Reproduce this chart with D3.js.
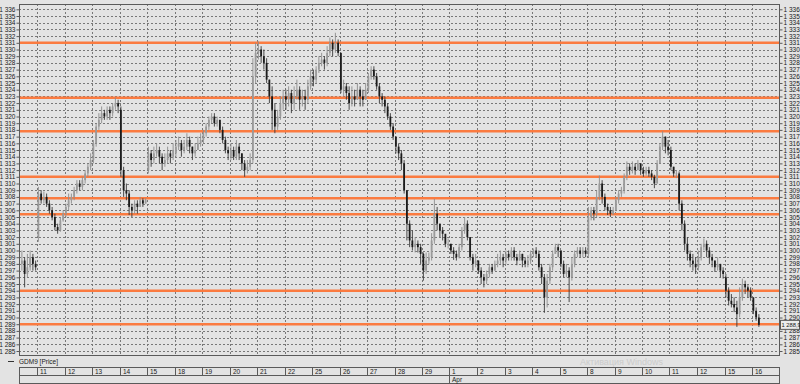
<!DOCTYPE html>
<html>
<head>
<meta charset="utf-8">
<script src="https://cdnjs.cloudflare.com/ajax/libs/d3/7.8.5/d3.min.js"></script>
<style>
body{margin:0;background:#e3e3e3;overflow:hidden}
svg{display:block}
text{font-family:"Liberation Sans",Arial,sans-serif;fill:#1a1a1a}
</style>
</head>
<body>
<script>
//---------------------------------------------------------------------------DATA
// one entry per trading day, first one is the cut-off day before Mar 11
var dayLabels = ["", "11", "12", "13", "14", "15", "18", "19", "20", "21", "22", "25", "26", "27", "28", "29",
	"1", "2", "3", "4", "5", "8", "9", "10", "11", "12", "15", "16"];
var monthStarts = [16];
var monthNames = ["Apr"];

var dayOpens = [1298, 1302, 1305.5, 1313.5, 1321, 1312, 1314.5, 1316.5, 1314, 1329.5, 1323, 1326, 1329.5, 1324,
	1317, 1299.5, 1301, 1298.5, 1298.5, 1299.5, 1300, 1299.5, 1306, 1312, 1315, 1297.5, 1296, 1293];

var closes = [
	[1298.5, 1296.5, 1297.5, 1299, 1298, 1297.5],
	[1308.5, 1307.5, 1308, 1307, 1306, 1305, 1303.5, 1303, 1304.5, 1305.5],
	[1306.5, 1307.5, 1308, 1309, 1310, 1309.5, 1310.5, 1311.5, 1312.5, 1313.5],
	[1316, 1318.5, 1319.5, 1320.5, 1320, 1321, 1320.5, 1321.5, 1322, 1321.5],
	[1312, 1309, 1308.5, 1306.5, 1306, 1307, 1306.5, 1307.5, 1307, 1307.5],
	[1314.5, 1313.5, 1314.5, 1315, 1314, 1313, 1313.5, 1314.5, 1314, 1315],
	[1315.5, 1316, 1315, 1315.5, 1316.5, 1315.5, 1314.5, 1315, 1316, 1316.5],
	[1317.5, 1318.5, 1319.5, 1320, 1319, 1319.5, 1318, 1316.5, 1315, 1314.5],
	[1315, 1314, 1315.5, 1314.5, 1313, 1312, 1312.5, 1313.5, 1326, 1329.5],
	[1330, 1329, 1328, 1325.5, 1323, 1321, 1318.5, 1320, 1322, 1323],
	[1322.5, 1323.5, 1322, 1323, 1324, 1322.5, 1323, 1322.5, 1324.5, 1326],
	[1325.5, 1327, 1328, 1328.5, 1328, 1329.5, 1331, 1330, 1331, 1329.5],
	[1324, 1324.5, 1323.5, 1322, 1323, 1322.5, 1324, 1323, 1322.5, 1324],
	[1326, 1327, 1326, 1324.5, 1323, 1322.5, 1321.5, 1320, 1318.5, 1317],
	[1315.5, 1314.5, 1313, 1309, 1304, 1301.5, 1300.5, 1301, 1300.5, 1299.5],
	[1297, 1298.5, 1299, 1301.5, 1305.5, 1304, 1303, 1302.5, 1301, 1301],
	[1300, 1299.5, 1299, 1300.5, 1303, 1304, 1302, 1299, 1298, 1298.5],
	[1297, 1296, 1295.5, 1296.5, 1297.5, 1297, 1298, 1298.5, 1299, 1298.5],
	[1299.5, 1299, 1300, 1299, 1298.5, 1299.5, 1298.5, 1298, 1298.5, 1299.5],
	[1300, 1299.5, 1297.5, 1296, 1293, 1295.5, 1297.5, 1299.5, 1300.5, 1300],
	[1298, 1296.5, 1297, 1296, 1298, 1299.5, 1300, 1299.5, 1300, 1299.5],
	[1305, 1306, 1305.5, 1308, 1310, 1308, 1306.5, 1306, 1305.5, 1306],
	[1307.5, 1308.5, 1309, 1311, 1312.5, 1312, 1312.5, 1312, 1313, 1312],
	[1311.5, 1312, 1311.5, 1311, 1310, 1313, 1315.5, 1317, 1315.5, 1315],
	[1312.5, 1311.5, 1311.5, 1307, 1304, 1301, 1299.5, 1298.5, 1298, 1297.5],
	[1299, 1300.5, 1301, 1300, 1299, 1298.5, 1297.5, 1298, 1297, 1296.5],
	[1294, 1292.5, 1292, 1291.5, 1290.5, 1293, 1295, 1294.5, 1294, 1293],
	[1291, 1290, 1288.9]
];

var highs = [
	[1300, 1299, 1299.5, 1300, 1299.5, 1298.5],
	[1309.5, 1309, 1308.8, 1308.5, 1307.5, 1306.5, 1305.5, 1304, 1305, 1306],
	[1307, 1308.5, 1308.5, 1309.5, 1310.5, 1310.5, 1311, 1312, 1313, 1314.5],
	[1316.5, 1319, 1320.5, 1321.5, 1321, 1321.5, 1321.5, 1322, 1322.8, 1322.5],
	[1321.5, 1312.5, 1310, 1309, 1307, 1307.5, 1307.5, 1308, 1307.8, 1307.8],
	[1315.5, 1315, 1315.5, 1316, 1315.5, 1314.5, 1314.5, 1315.5, 1315, 1316],
	[1316.5, 1317, 1316.5, 1316.5, 1317.5, 1317, 1315.5, 1316, 1317, 1317.5],
	[1318, 1319, 1320, 1320.5, 1320.5, 1320, 1319.5, 1318.5, 1317, 1315.5],
	[1316, 1315.5, 1316.5, 1316, 1314.5, 1313.5, 1313.5, 1314.5, 1328.7, 1331],
	[1331.2, 1330.5, 1330, 1328.7, 1325.5, 1324.5, 1322, 1321, 1323, 1324],
	[1324, 1324.5, 1324, 1324.5, 1325.5, 1324.5, 1324, 1324, 1325.5, 1327],
	[1327, 1327.5, 1329, 1329.5, 1329, 1330.5, 1331.8, 1331.5, 1332.5, 1331.5],
	[1329.5, 1325.5, 1325, 1324.5, 1324.5, 1324, 1325, 1324.5, 1324, 1325],
	[1326.5, 1327.5, 1327.5, 1326.5, 1325, 1323.5, 1323, 1322, 1320.5, 1319],
	[1317, 1316, 1315, 1313.5, 1309, 1304.5, 1303, 1302, 1301.5, 1301],
	[1299.7, 1299.7, 1299.7, 1302.6, 1307.7, 1306.5, 1304, 1303.5, 1302, 1301.8],
	[1301, 1300.5, 1300, 1301, 1303.5, 1305, 1304.5, 1302, 1299.5, 1299.5],
	[1298.5, 1297.5, 1296.5, 1297, 1298, 1298, 1298.5, 1299.5, 1300, 1299.5],
	[1300, 1300, 1300.5, 1300.5, 1299.5, 1300, 1299.5, 1299, 1299.3, 1300],
	[1300.3, 1300.5, 1300, 1298, 1296.5, 1296.5, 1298, 1300, 1301, 1301],
	[1300, 1298.5, 1298, 1297.5, 1299, 1300, 1300.5, 1300.5, 1300.5, 1300.5],
	[1306.5, 1306.5, 1306.5, 1309, 1311.2, 1310.5, 1308.5, 1307, 1306.5, 1306.5],
	[1308, 1309, 1309.5, 1311.5, 1313.3, 1313, 1313.3, 1313, 1313.5, 1313],
	[1312.5, 1312.5, 1312.5, 1312, 1311.3, 1313.5, 1316, 1317.8, 1317, 1316.5],
	[1315.5, 1312.5, 1312, 1311.8, 1307.5, 1304.5, 1302, 1300, 1299.5, 1299],
	[1300, 1301, 1301.8, 1301.5, 1300.5, 1299.5, 1298.5, 1299, 1298, 1297.5],
	[1296.5, 1294.5, 1293.5, 1293, 1292.5, 1294.5, 1295.8, 1295.5, 1294.8, 1294.5],
	[1293, 1291.5, 1290.5]
];

var lows = [
	[1297, 1294.5, 1296, 1297, 1297, 1297],
	[1301.3, 1307, 1307, 1306.5, 1305.5, 1304.5, 1303, 1302.5, 1302.8, 1304.3],
	[1305, 1306, 1307, 1307.5, 1308.5, 1309, 1309, 1310, 1311, 1312],
	[1313, 1315.5, 1318, 1319, 1319.5, 1319.5, 1319.5, 1320, 1321, 1320.5],
	[1311, 1308, 1307.5, 1305.3, 1305, 1305.5, 1305.5, 1306.5, 1306.5, 1307],
	[1311.5, 1312.5, 1313, 1314, 1313, 1312, 1312.5, 1313, 1313, 1313.5],
	[1314, 1315, 1314, 1314.5, 1315, 1314.5, 1313.5, 1314, 1315, 1315.5],
	[1316, 1317, 1318, 1319, 1318.5, 1318.5, 1317.5, 1316, 1314.5, 1313.5],
	[1313.5, 1313.5, 1313.5, 1313.5, 1312, 1311, 1311.5, 1312, 1313, 1325],
	[1328.5, 1328, 1327, 1325, 1322, 1318, 1317.5, 1318, 1319.5, 1321],
	[1321, 1321.5, 1320.5, 1321, 1322.5, 1321, 1321.5, 1321, 1322, 1324],
	[1324.5, 1325, 1326.5, 1327.5, 1327, 1327.5, 1329, 1329, 1329.5, 1329],
	[1323.5, 1323, 1322.5, 1321, 1321.5, 1321.5, 1322.5, 1321.5, 1321.5, 1322.5],
	[1323.5, 1325.5, 1325.5, 1324, 1322, 1321.5, 1320.5, 1319.5, 1318, 1316.5],
	[1314.5, 1313.5, 1312, 1308.5, 1301.5, 1300.5, 1300, 1299.7, 1299.7, 1298],
	[1295.5, 1296.5, 1298, 1298.5, 1301, 1303, 1302, 1301.5, 1300.5, 1300.3],
	[1299.5, 1298.6, 1298.5, 1298.8, 1300, 1302.5, 1301.5, 1298.5, 1297, 1297.5],
	[1296.5, 1295, 1294.5, 1295, 1296, 1296.5, 1297, 1297.5, 1298, 1297.5],
	[1298, 1298.5, 1298.5, 1298.5, 1297.8, 1298.5, 1297.5, 1297.5, 1297.5, 1298],
	[1299, 1299, 1297, 1295, 1290.7, 1291.5, 1295, 1297, 1299.5, 1299],
	[1297.5, 1296, 1296, 1292.3, 1295.5, 1297.5, 1299, 1299, 1299, 1299],
	[1299, 1304.5, 1304.5, 1305, 1307.5, 1307, 1306, 1305.3, 1305, 1305.3],
	[1306, 1307, 1308, 1308.5, 1310.5, 1311.3, 1311.5, 1311.3, 1312, 1311.3],
	[1311, 1311.2, 1311, 1310.5, 1309.3, 1310, 1313, 1315, 1314.5, 1314.2],
	[1312, 1311, 1310.8, 1306, 1303, 1300, 1298.5, 1297.5, 1297, 1296.5],
	[1297, 1298.5, 1300, 1299, 1298, 1297.5, 1296.8, 1297, 1296, 1295.8],
	[1293, 1291.8, 1291.5, 1290.8, 1288.6, 1290, 1292.5, 1293.5, 1293, 1292.5],
	[1290.5, 1289.5, 1288.6]
];

var levels = [1331, 1322.8, 1317.8, 1311, 1307.8, 1305.4, 1294, 1289];
var lastPrice = 1288.9;
var seriesName = "GDM9 [Price]";

//---------------------------------------------------------------------------LAYOUT
var W = 800, H = 384;
var plot = {left: 19, right: 779, top: 4, bottom: 355};
var barsPerDay = 10;

var svg = d3.select("body").append("svg").attr("width", W).attr("height", H);
svg.append("rect").attr("width", W).attr("height", H).attr("fill", "#e3e3e3");

// day 0 = Mar 11, each trading day is 27.5px
var x = d3.scaleLinear().domain([0, 26]).range([37, 752]);
var y = d3.scaleLinear().domain([1336, 1285]).range([9.3, 351]);

var nf = d3.formatLocale({decimal: ",", thousands: " ", grouping: [3], currency: ["", ""]});
var fmtTick = nf.format(",d");
var fmtLast = nf.format(",.1f");

var grid = svg.append("g");
var yTicks = d3.range(1285, 1337);

grid.selectAll("line.h").data(yTicks).enter().append("line")
	.attr("x1", plot.left).attr("x2", plot.right)
	.attr("y1", function(d){ return Math.round(y(d)) + 0.5; })
	.attr("y2", function(d){ return Math.round(y(d)) + 0.5; })
	.attr("stroke", "#777").attr("stroke-dasharray", "2,2");

var dayIdx = d3.range(0, 27);
grid.selectAll("line.v").data(dayIdx).enter().append("line")
	.attr("x1", function(d){ return Math.round(x(d)) + 0.5; })
	.attr("x2", function(d){ return Math.round(x(d)) + 0.5; })
	.attr("y1", plot.top).attr("y2", plot.bottom)
	.attr("stroke", "#777").attr("stroke-dasharray", "2,2");

// support / resistance levels
svg.append("g").selectAll("line").data(levels).enter().append("line")
	.attr("x1", plot.left).attr("x2", plot.right)
	.attr("y1", function(d){ return y(d); }).attr("y2", function(d){ return y(d); })
	.attr("stroke", "#fb7b40").attr("stroke-width", 2.4);

//---------------------------------------------------------------------------BARS
var bars = [];
var prev = null;
for(var i = 0; i < closes.length; i++){
	var start = (i == 0) ? barsPerDay - closes[i].length : 0;
	for(var k = 0; k < closes[i].length; k++){
		var o = (k == 0) ? dayOpens[i] : prev;
		var c = closes[i][k];
		bars.push({t: (i - 1) + (start + k + 0.5) / barsPerDay, o: o, h: highs[i][k], l: lows[i][k], c: c});
		prev = c;
	}
}

var candle = svg.append("g").selectAll("g").data(bars).enter().append("g");
candle.append("line")
	.attr("x1", function(d){ return x(d.t); }).attr("x2", function(d){ return x(d.t); })
	.attr("y1", function(d){ return y(d.h); }).attr("y2", function(d){ return y(d.l); })
	.attr("stroke", function(d){ return d.c >= d.o ? "#8c8c8c" : "#3a3a3a"; })
	.attr("stroke-width", 0.9);
candle.append("rect")
	.attr("x", function(d){ return x(d.t) - 0.9; })
	.attr("width", 1.8)
	.attr("y", function(d){ return y(Math.max(d.o, d.c)); })
	.attr("height", function(d){ return Math.max(0.8, Math.abs(y(d.o) - y(d.c))); })
	.attr("fill", function(d){ return d.c >= d.o ? "#9a9a9a" : "#1c1c1c"; });

//---------------------------------------------------------------------------AXES
svg.append("rect").attr("x", plot.left + 0.5).attr("y", plot.top + 0.5)
	.attr("width", plot.right - plot.left).attr("height", plot.bottom - plot.top)
	.attr("fill", "none").attr("stroke", "#5a5a5a");

// the last price tag sits over the 1 289 label on the right
var rightTicks = yTicks.filter(function(v){ return Math.abs(y(v) - y(lastPrice)) > 5; });

var yl = svg.append("g").attr("transform", "translate(" + (plot.left + 0.5) + ",0)")
	.call(d3.axisLeft(y).tickValues(yTicks).tickSize(3).tickPadding(1).tickFormat(fmtTick));
var yr = svg.append("g").attr("transform", "translate(" + (plot.right + 0.5) + ",0)")
	.call(d3.axisRight(y).tickValues(rightTicks).tickSize(3).tickPadding(1).tickFormat(fmtTick));
[yl, yr].forEach(function(a){
	a.select(".domain").remove();
	a.selectAll("line").attr("stroke", "#5a5a5a");
	a.selectAll("text").attr("font-size", 6.5).attr("fill", "#1a1a1a");
});

// last price tag
var lp = svg.append("g").attr("transform", "translate(" + (plot.right + 1) + "," + y(lastPrice) + ")");
lp.append("rect").attr("x", 0.5).attr("y", -4.5).attr("width", 19).attr("height", 9)
	.attr("fill", "#ececec").attr("stroke", "#5a5a5a");
lp.append("text").attr("x", 1.5).attr("y", 2.2).attr("font-size", 5.8).text(fmtLast(lastPrice));

// legend
svg.append("line").attr("x1", 8).attr("x2", 14).attr("y1", 361.5).attr("y2", 361.5).attr("stroke", "#333");
svg.append("text").attr("x", 19).attr("y", 364).attr("font-size", 6.5).text(seriesName);

// date scale
var ax = svg.append("g");
ax.append("rect").attr("x", plot.left + 0.5).attr("y", 367.5).attr("width", plot.right - plot.left).attr("height", 16)
	.attr("fill", "#e3e3e3").attr("stroke", "#5a5a5a");
ax.append("line").attr("x1", plot.left).attr("x2", plot.right).attr("y1", 375.5).attr("y2", 375.5).attr("stroke", "#5a5a5a");
ax.selectAll("line.d").data(dayIdx).enter().append("line")
	.attr("x1", function(d){ return Math.round(x(d)) + 0.5; })
	.attr("x2", function(d){ return Math.round(x(d)) + 0.5; })
	.attr("y1", 367.5).attr("y2", 375.5).attr("stroke", "#5a5a5a");
ax.selectAll("text.d").data(dayIdx).enter().append("text")
	.attr("x", function(d){ return Math.round(x(d)) + 3; })
	.attr("y", 374)
	.attr("font-size", 6.5)
	.text(function(d){ return dayLabels[d + 1]; });
ax.selectAll("line.m").data(monthStarts).enter().append("line")
	.attr("x1", function(d){ return Math.round(x(d - 1)) + 0.5; })
	.attr("x2", function(d){ return Math.round(x(d - 1)) + 0.5; })
	.attr("y1", 375.5).attr("y2", 383.5).attr("stroke", "#5a5a5a");
ax.selectAll("text.m").data(monthStarts).enter().append("text")
	.attr("x", function(d){ return Math.round(x(d - 1)) + 3; })
	.attr("y", 382)
	.attr("font-size", 6.5)
	.text(function(d, i){ return monthNames[i]; });

// faint os watermark
svg.append("text").attr("x", 580).attr("y", 365).attr("font-size", 9)
	.style("fill", "#cbcbcb").text("Активация Windows");
</script>
</body>
</html>
